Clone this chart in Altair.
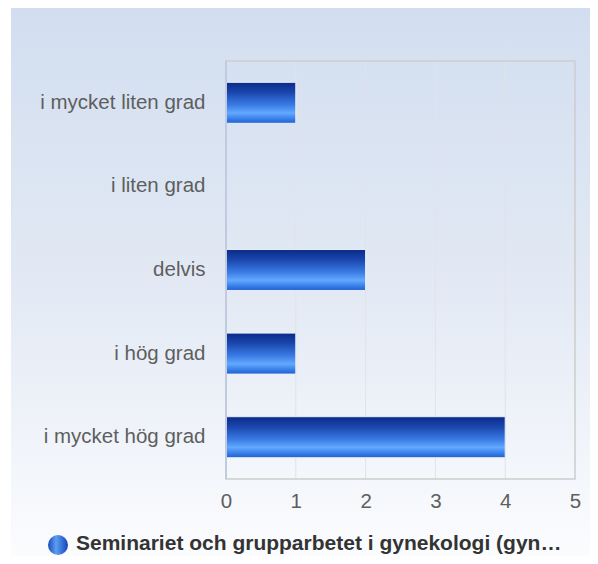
import altair as alt
import pandas as pd

categories = ["i mycket liten grad", "i liten grad", "delvis", "i hög grad", "i mycket hög grad"]
values = [1, 0, 2, 1, 4]
x_ticks = [0, 1, 2, 3, 4, 5]
series_name = "Seminariet och grupparbetet i gynekologi (gyn…"

W, H = 349, 418
PAD = {"left": 218, "top": 53, "right": 15, "bottom": 77}

bars_df = pd.DataFrame({"kategori": categories, "antal": values})
grid_df = pd.DataFrame({"antal": x_ticks[1:-1]})
one = alt.Data(values=[{}])

FONT = "Liberation Sans"

x_scale = alt.Scale(domain=[0, 5], nice=False)
x_axis = alt.Axis(values=x_ticks, title=None, grid=False, domain=False, ticks=False,
                  labelFont=FONT, labelFontSize=20.5, labelColor="#5e5e5e",
                  labelPadding=12, labelFlush=False, zindex=1, format="d")

bg = alt.Chart(one).mark_rect(
    fill=alt.Gradient(
        gradient="linear", x1=0, y1=0, x2=0, y2=1,
        stops=[alt.GradientStop(color="#d2def0", offset=0),
               alt.GradientStop(color="#e2e9f4", offset=0.5),
               alt.GradientStop(color="#fbfcfe", offset=1)],
    )
).encode(x=alt.value(-215), x2=alt.value(W + PAD["right"]),
         y=alt.value(-PAD["top"]), y2=alt.value(H + PAD["bottom"]))

grid = alt.Chart(grid_df).mark_rule(color="#e1e3e8", strokeWidth=1).encode(
    x=alt.X("antal:Q", scale=x_scale, axis=x_axis)
)

border = alt.Chart(one).mark_rect(fillOpacity=0, stroke="#cdcdcd", strokeWidth=1.5).encode(
    x=alt.value(0), x2=alt.value(W), y=alt.value(0), y2=alt.value(H)
)

left_line = alt.Chart(one).mark_rule(color="#c2cadf", strokeWidth=2).encode(
    x=alt.value(0), y=alt.value(0), y2=alt.value(H)
)

bars = alt.Chart(bars_df).mark_bar(
    fill=alt.Gradient(
        gradient="linear", x1=0, y1=0, x2=0, y2=1,
        stops=[alt.GradientStop(color="#0a2a88", offset=0),
               alt.GradientStop(color="#1a47ae", offset=0.25),
               alt.GradientStop(color="#3a7ae4", offset=0.55),
               alt.GradientStop(color="#62a9ff", offset=0.75),
               alt.GradientStop(color="#3c82ea", offset=0.88),
               alt.GradientStop(color="#1e5fd2", offset=1)],
    ),
    stroke="#e8eef8", strokeWidth=1,
).encode(
    x=alt.X("antal:Q", scale=x_scale, axis=x_axis),
    y=alt.Y("kategori:N", sort=categories,
            scale=alt.Scale(paddingInner=0.51, paddingOuter=0.255),
            axis=alt.Axis(title=None, grid=False, domain=False, ticks=False,
                          labelFont=FONT, labelFontSize=20.5, labelColor="#5e5e5e",
                          labelPadding=21, labelLimit=300, zindex=1)),
)

legend_dot = alt.Chart(one).mark_point(
    shape="circle", filled=True, size=400, opacity=1,
    fill=alt.Gradient(
        gradient="linear", x1=0, y1=0, x2=1, y2=0,
        stops=[alt.GradientStop(color="#1a48bc", offset=0),
               alt.GradientStop(color="#5b9ff0", offset=0.4),
               alt.GradientStop(color="#2a62d0", offset=0.8),
               alt.GradientStop(color="#1a44b0", offset=1)],
    ),
).encode(x=alt.value(-168), y=alt.value(484))

legend_text = alt.Chart(pd.DataFrame({"t": [series_name]})).mark_text(
    align="left", baseline="middle", font=FONT, fontSize=21, fontWeight="bold", color="#333333"
).encode(x=alt.value(-150), y=alt.value(483), text="t:N")

chart = alt.layer(bg, grid, border, bars, left_line, legend_dot, legend_text).properties(
    width=W, height=H,
    autosize=alt.AutoSizeParams(type="none"),
    padding=PAD,
).configure_view(stroke=None)

chart.save("out.html", embed_options={"renderer": "svg", "actions": False})
